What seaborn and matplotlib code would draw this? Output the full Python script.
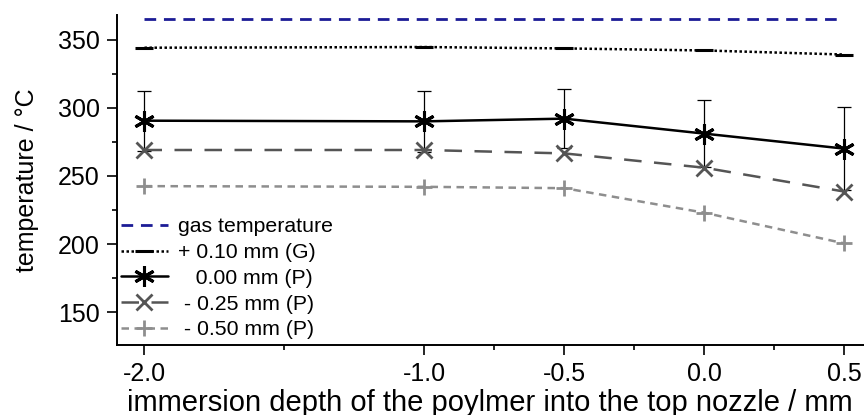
import matplotlib
matplotlib.use("Agg")
import matplotlib.pyplot as plt
import seaborn as sns
import pandas as pd

# immersion depth of the polymer into the top nozzle (mm)
depth = [-2.0, -1.0, -0.5, 0.0, 0.5]

# temperatures (deg C)
gas_temp = [365, 365, 365, 365, 365]
temp_g_p010 = [344, 344.5, 343.5, 342, 339]
temp_p_000 = [290.5, 290, 292, 281, 270]
err_p_000 = [22, 22.5, 21.5, 24.5, 30.5]
temp_p_m025 = [269, 269, 266.5, 256, 238.5]
temp_p_m050 = [242.5, 242, 241, 223, 200.5]

labels = ["gas temperature", "+ 0.10 mm (G)", "   0.00 mm (P)",
          " - 0.25 mm (P)", " - 0.50 mm (P)"]

x_major = [-2.0, -1.0, -0.5, 0.0, 0.5]
x_major_labels = ["-2.0", "-1.0", "-0.5", "0.0", "0.5"]
x_minor = [-1.5, -0.75, -0.25, 0.25]
y_major = [150, 200, 250, 300, 350]
y_minor = [175, 225, 275, 325]

sns.set_theme(style="ticks")
plt.rcParams["font.family"] = ["Liberation Sans", "DejaVu Sans"]

fig = plt.figure(figsize=(8.64, 4.15), dpi=100)
ax = fig.add_axes([116.5 / 864, 1 - 345 / 415, 1 - 116.5 / 864, (345 - 15) / 415])

df = pd.DataFrame({"depth": depth, "gas": gas_temp, "g010": temp_g_p010,
                   "p000": temp_p_000, "err": err_p_000,
                   "m025": temp_p_m025, "m050": temp_p_m050})

navy = "#1c1c96"
dark_grey = "#555555"
light_grey = "#8e8e8e"

sns.lineplot(data=df, x="depth", y="gas", ax=ax, color=navy, lw=2.0,
             linestyle=(0, (4.2, 2.8)), label=labels[0], errorbar=None)
sns.lineplot(data=df, x="depth", y="g010", ax=ax, color="black", lw=1.8,
             linestyle=(0, (1.0, 1.0)), marker="_", markersize=13,
             markeredgewidth=2.2, markeredgecolor="black",
             label=labels[1], errorbar=None)

ax.errorbar(df["depth"], df["p000"], yerr=df["err"], fmt="none",
            ecolor="black", elinewidth=0.9, capsize=4.7, capthick=0.9, zorder=2)

sns.lineplot(data=df, x="depth", y="p000", ax=ax, color="black", lw=1.8,
             marker=(6, 2, 0), markersize=15, markeredgewidth=2.2,
             markeredgecolor="black", label=labels[2], errorbar=None, zorder=3)
sns.lineplot(data=df, x="depth", y="m025", ax=ax, color=dark_grey, lw=1.8,
             linestyle=(0, (7, 5)), marker="x", markersize=12,
             markeredgewidth=2.0, markeredgecolor=dark_grey,
             label=labels[3], errorbar=None, zorder=4)
sns.lineplot(data=df, x="depth", y="m050", ax=ax, color=light_grey, lw=1.8,
             linestyle=(0, (3, 2.2)), marker="+", markersize=12,
             markeredgewidth=2.0, markeredgecolor=light_grey,
             label=labels[4], errorbar=None, zorder=4)

ax.set_xlim(-2.1, 0.57)
ax.set_ylim(126, 368)
ax.set_xticks(x_major)
ax.set_xticklabels(x_major_labels)
ax.set_xticks(x_minor, minor=True)
ax.set_yticks(y_major)
ax.set_yticks(y_minor, minor=True)

for side in ("top", "right"):
    ax.spines[side].set_visible(False)
for side in ("left", "bottom"):
    ax.spines[side].set_linewidth(1.4)
    ax.spines[side].set_color("black")

ax.tick_params(axis="both", which="major", direction="out", length=7.2,
               width=1.2, labelsize=18, pad=5, colors="black")
ax.tick_params(axis="both", which="minor", direction="out", length=3.6,
               width=1.2, colors="black")

ax.set_xlabel("immersion depth of the poylmer into the top nozzle / mm",
              fontsize=21, labelpad=2, color="black")
ax.set_ylabel("temperature / \u00b0C", fontsize=18, labelpad=13, color="black")

handles, _ = ax.get_legend_handles_labels()
leg = ax.legend(handles[:5], labels, loc="upper left",
                bbox_to_anchor=(0.0, 0.40), frameon=False, fontsize=15.3,
                handlelength=2.2, handletextpad=0.5, labelspacing=0.32,
                borderaxespad=0.2, borderpad=0.0, numpoints=1)
for t in leg.get_texts():
    t.set_color("black")

fig.savefig("out.png", dpi=100)
